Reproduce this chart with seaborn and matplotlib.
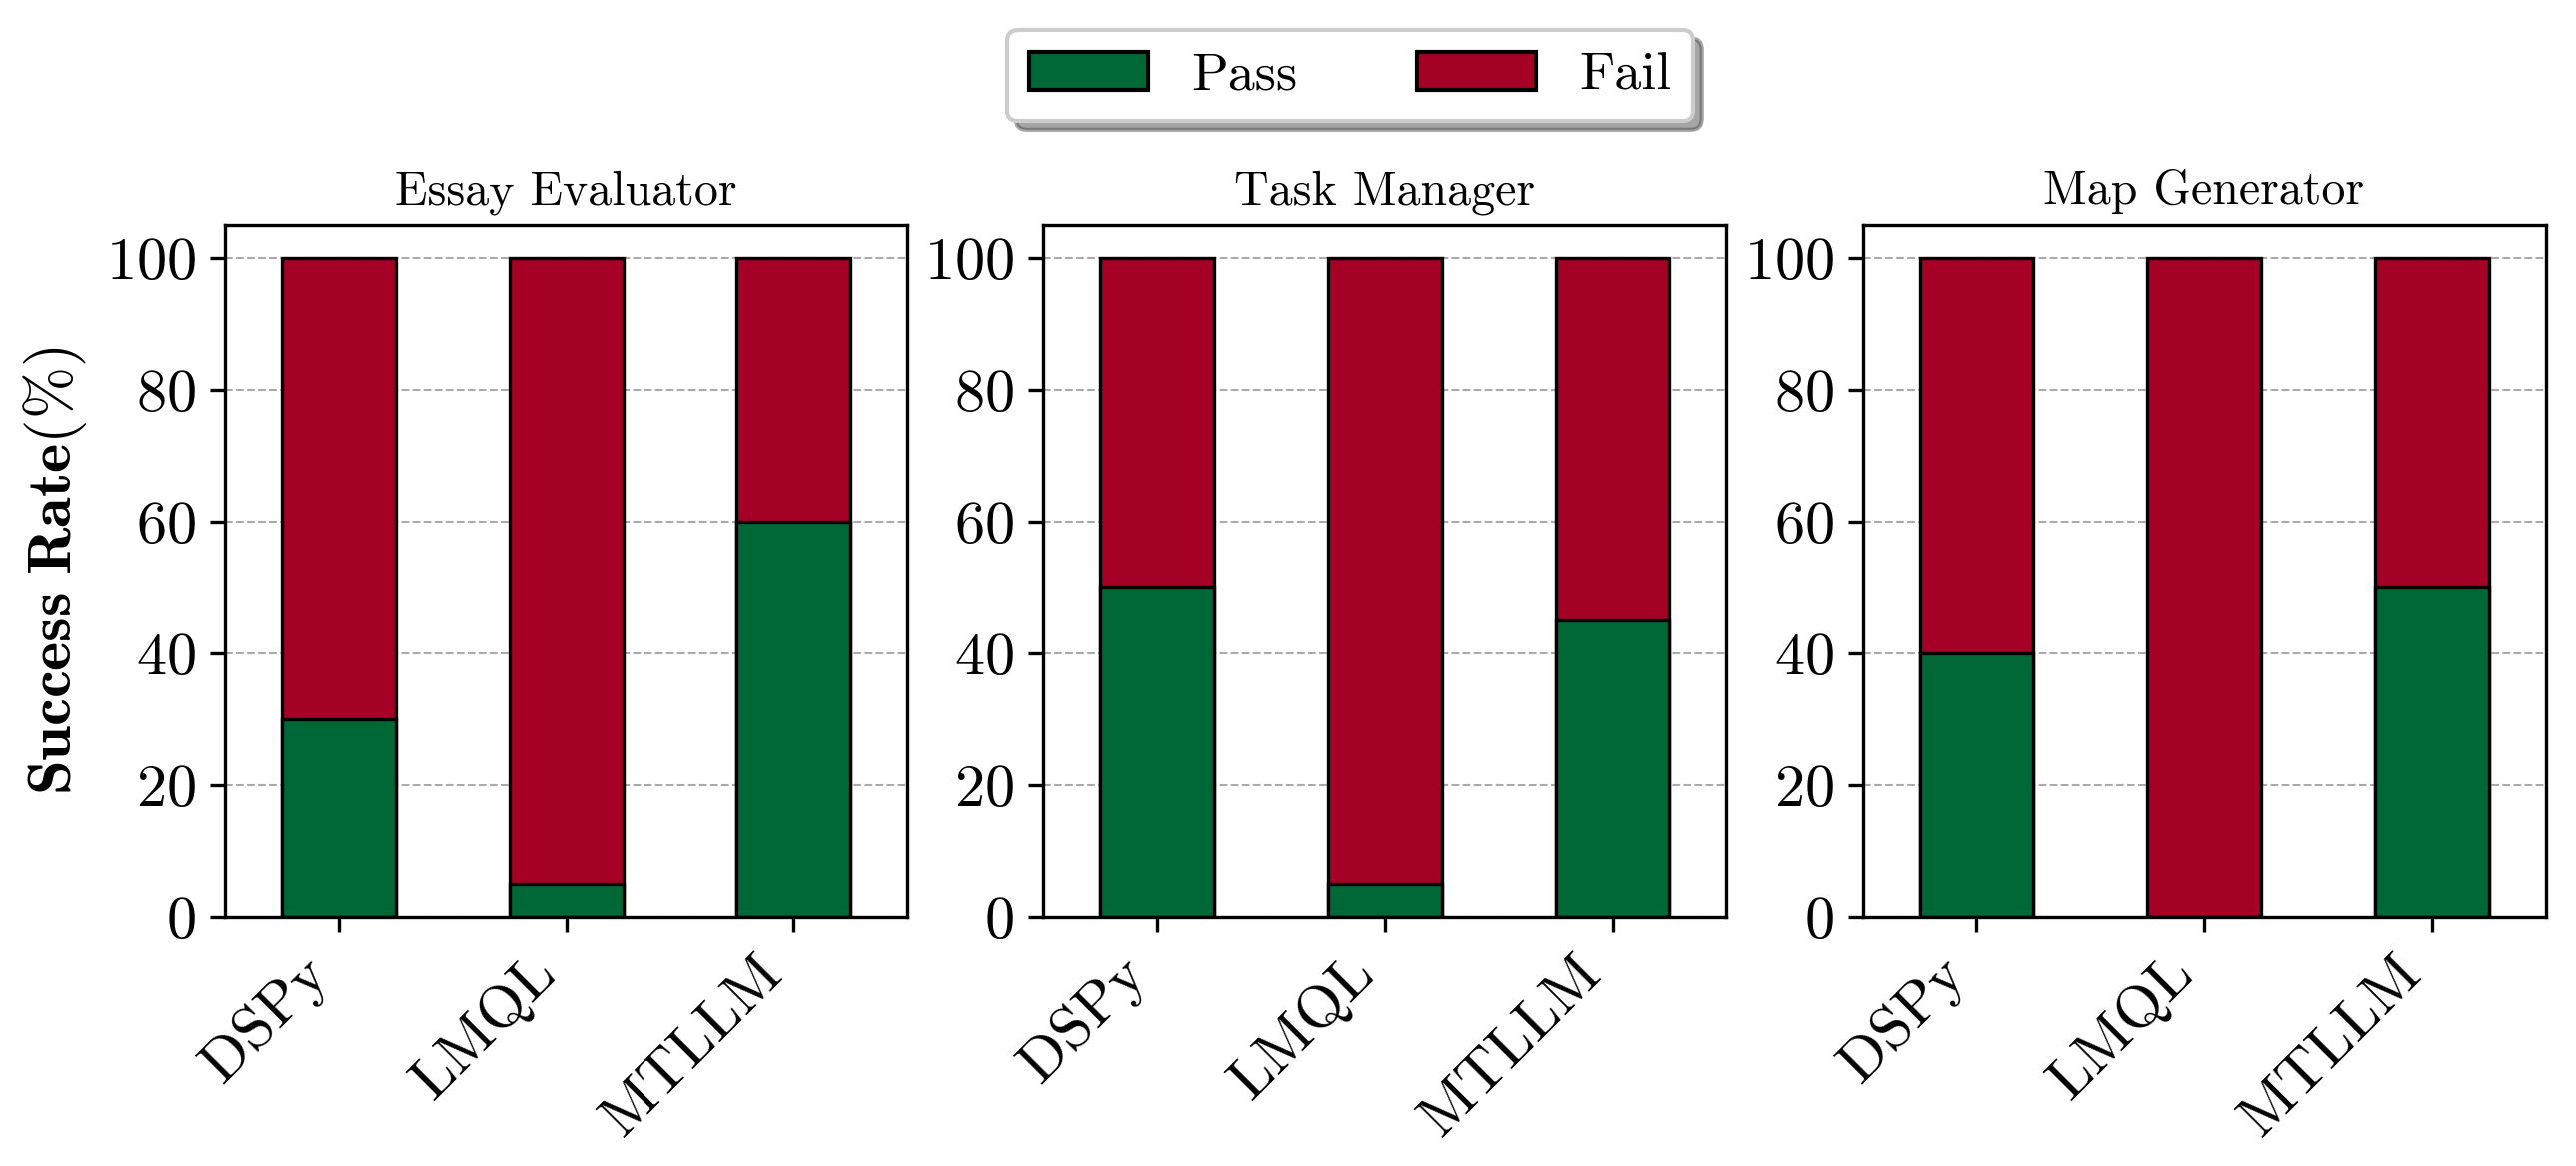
import pandas as pd
import matplotlib.pyplot as plt
import seaborn as sns
from matplotlib.patches import Patch

# Data
tasks = ["Essay Evaluator", "Task Manager", "Map Generator"]
frameworks = ["DSPy", "LMQL", "MTLLM"]
pass_essay = [30, 5, 60]
pass_task = [50, 5, 45]
pass_map = [40, 0, 50]
fail_essay = [70, 95, 40]
fail_task = [50, 95, 55]
fail_map = [60, 100, 50]

pass_vals = [pass_essay, pass_task, pass_map]
fail_vals = [fail_essay, fail_task, fail_map]

pass_color = "#006837"
fail_color = "#a50026"

sns.set_style("white")
plt.rcParams["font.family"] = "serif"
plt.rcParams["font.serif"] = ["cmr10"]
plt.rcParams["mathtext.fontset"] = "cm"
plt.rcParams["axes.formatter.use_mathtext"] = True
plt.rcParams["axes.unicode_minus"] = False
plt.rcParams["text.color"] = "black"
plt.rcParams["axes.labelcolor"] = "black"
plt.rcParams["xtick.color"] = "black"
plt.rcParams["ytick.color"] = "black"

fig = plt.figure(figsize=(2579 / 300, 1167 / 300), dpi=300)
lefts = [0.0872, 0.4048, 0.7228]
width = 0.265
bottom = 0.2134
height = 0.5938

for i, task in enumerate(tasks):
    ax = fig.add_axes([lefts[i], bottom, width, height])
    df = pd.DataFrame({
        "Framework": frameworks,
        "Pass": pass_vals[i],
        "Fail": fail_vals[i],
    })
    df["Total"] = df["Pass"] + df["Fail"]
    # fail stacked on pass: draw total first, then pass on top
    sns.barplot(data=df, x="Framework", y="Total", color=fail_color,
                width=0.5, edgecolor="black", linewidth=0.8, saturation=1, ax=ax)
    sns.barplot(data=df, x="Framework", y="Pass", color=pass_color,
                width=0.5, edgecolor="black", linewidth=0.8, saturation=1, ax=ax)
    ax.set_ylim(0, 105)
    ax.set_xlim(-0.5, 2.5)
    ax.set_yticks([0, 20, 40, 60, 80, 100])
    ax.set_axisbelow(True)
    ax.yaxis.grid(True, linestyle="--", linewidth=0.5, color="#aaaaaa")
    ax.tick_params(axis="both", which="major", labelsize=14.5, length=3.5,
                   width=0.8, direction="out", bottom=True, left=True,
                   colors="black")
    ax.set_xticks(range(len(frameworks)))
    ax.set_xticklabels(frameworks, rotation=45, ha="right")
    ax.set_xlabel("")
    for s in ax.spines.values():
        s.set_linewidth(0.8)
        s.set_color("black")
    ax.set_title(task, fontsize=11.5, pad=5, color="black")
    if i == 0:
        ax.set_ylabel(r"$\mathbf{Success\ Rate}(\%)$", fontsize=15)
    else:
        ax.set_ylabel("")

handles = [Patch(facecolor=pass_color, edgecolor="black", label="Pass"),
           Patch(facecolor=fail_color, edgecolor="black", label="Fail")]
fig.legend(handles=handles, loc="center", bbox_to_anchor=(0.524, 0.935),
           ncol=2, fontsize=13, frameon=True, fancybox=True, shadow=True,
           handlelength=2.2, columnspacing=2.2)

plt.savefig("out.png", dpi=300)
